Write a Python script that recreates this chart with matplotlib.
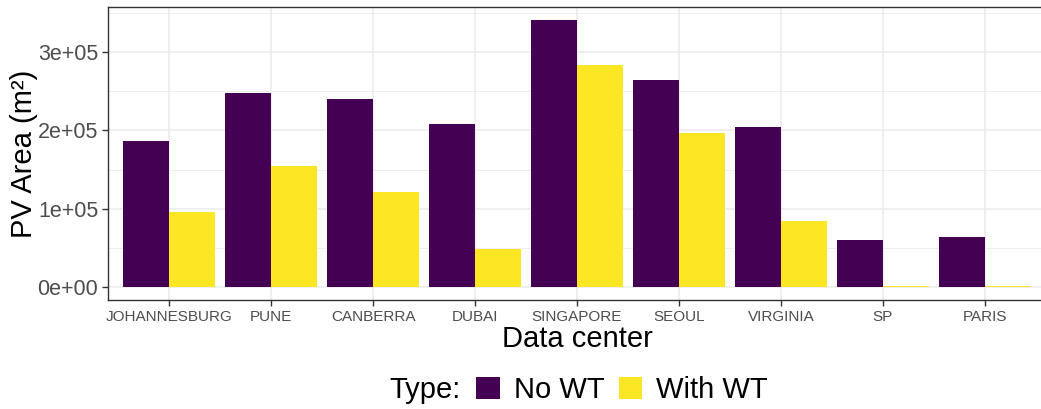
import matplotlib
matplotlib.use("Agg")
import matplotlib.pyplot as plt
from matplotlib.patches import Patch
from matplotlib.ticker import FixedLocator
import numpy as np

plt.rcParams["font.family"] = ["Liberation Sans", "DejaVu Sans"]

# data
centers = ["JOHANNESBURG", "PUNE", "CANBERRA", "DUBAI", "SINGAPORE",
           "SEOUL", "VIRGINIA", "SP", "PARIS"]
no_wt = [186500, 248000, 240000, 208000, 341000, 264500, 204300, 60000, 64000]
with_wt = [95800, 154500, 121300, 48500, 283500, 196700, 84300, 800, 800]
series_names = ["No WT", "With WT"]
colors = ["#440154", "#FDE725"]

fig = plt.figure(figsize=(10.41, 4.09), dpi=100)
# panel runs past the right edge of the picture, as in the reference
ax = fig.add_axes([108 / 1041, 1 - 300 / 409, 938 / 1041, 293 / 409])

x = np.arange(1, len(centers) + 1)
w = 0.45
ax.bar(x - w / 2, no_wt, width=w, color=colors[0], zorder=2)
ax.bar(x + w / 2, with_wt, width=w, color=colors[1], zorder=2)

ax.set_xlim(0.4, len(centers) + 0.6)
ax.set_ylim(-17000, 358000)

# grid in ggplot theme_bw style
ax.set_yticks([0, 100000, 200000, 300000])
ax.set_yticklabels(["0e+00", "1e+05", "2e+05", "3e+05"])
ax.yaxis.set_minor_locator(FixedLocator([50000, 150000, 250000, 350000]))
ax.set_xticks(x)
ax.set_xticklabels(centers)
ax.grid(which="major", color="#EBEBEB", linewidth=1.1, zorder=0)
ax.grid(which="minor", axis="y", color="#EBEBEB", linewidth=0.55, zorder=0)
ax.set_axisbelow(True)

for s in ax.spines.values():
    s.set_color("#333333")
    s.set_linewidth(1.0)

ax.tick_params(axis="y", which="major", labelsize=15.5, colors="#333333",
               labelcolor="#4D4D4D", length=4, width=1, pad=3)
ax.tick_params(axis="x", which="major", labelsize=11, colors="#333333",
               labelcolor="#4D4D4D", length=4, width=1, pad=3)
ax.tick_params(which="minor", length=0)

ax.set_xlabel("Data center", fontsize=21, labelpad=1)
ax.set_ylabel("PV Area (m²)", fontsize=21, labelpad=0)

# legend at the bottom
handles = [Patch(facecolor=c, edgecolor="none") for c in colors]
fig.text(461 / 1041, 1 - 390 / 409, "Type:", fontsize=21, va="center", ha="right")
fig.legend(handles, series_names, loc="center left",
           bbox_to_anchor=(476 / 1041, 1 - 390 / 409), ncol=2, frameon=False,
           fontsize=21, handlelength=0.82, handleheight=0.82, handletextpad=0.48,
           columnspacing=0.48, borderaxespad=0, borderpad=0)

fig.savefig("out.png", dpi=100)
